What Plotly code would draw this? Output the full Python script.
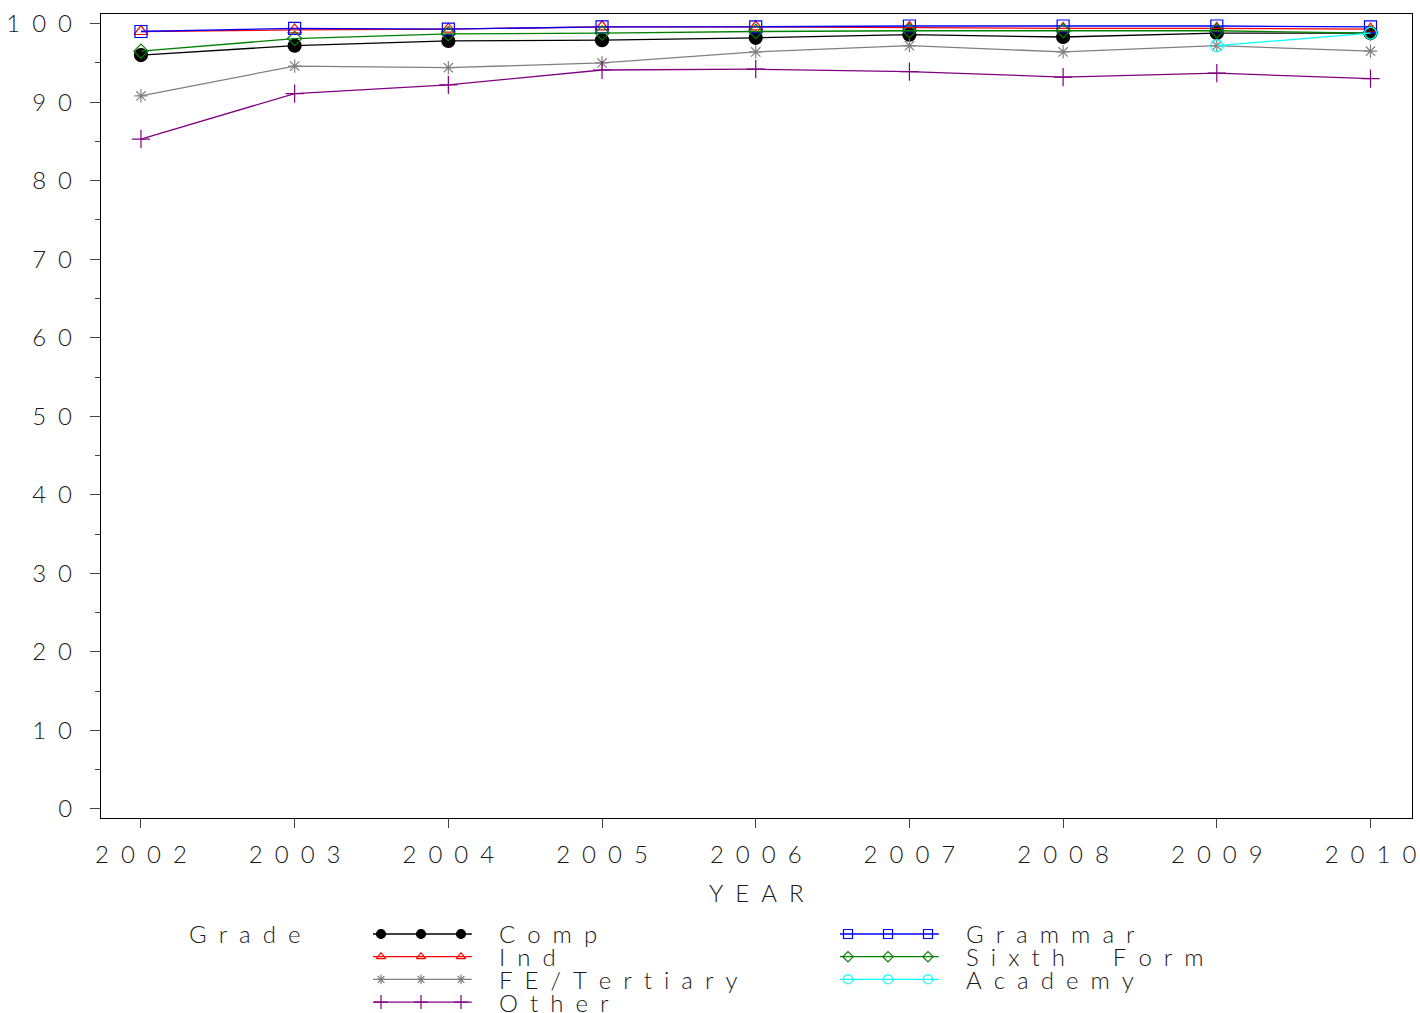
import plotly.graph_objects as go

years = [2002, 2003, 2004, 2005, 2006, 2007, 2008, 2009, 2010]
comp = [96.0, 97.2, 97.8, 97.9, 98.2, 98.6, 98.3, 98.8, 98.8]
ind = [99.0, 99.2, 99.3, 99.6, 99.6, 99.5, 99.4, 99.4, 99.3]
fe_tertiary = [90.8, 94.6, 94.4, 95.0, 96.4, 97.2, 96.4, 97.2, 96.5]
other = [85.3, 91.1, 92.2, 94.1, 94.2, 93.9, 93.2, 93.7, 93.0]
grammar = [99.0, 99.4, 99.3, 99.6, 99.6, 99.7, 99.7, 99.7, 99.6]
sixth_form = [96.5, 98.1, 98.7, 98.8, 99.0, 99.1, 99.1, 99.1, 98.8]
academy = [None, None, None, None, None, None, None, 97.2, 98.8]

names = ["Comp", "Ind", "FE/Tertiary", "Other", "Grammar", "Sixth Form", "Academy"]
values = [comp, ind, fe_tertiary, other, grammar, sixth_form, academy]
colors = ["black", "red", "#808080", "#800080", "blue", "#008000", "cyan"]
symbols = ["circle", "triangle-up-open", "asterisk-open", "cross-thin-open",
           "square-open", "diamond-open", "circle-open"]
plot_sizes = [13, 12, 11, 13, 12, 11, 12]
legend_sizes = [9, 8, 8, 10, 9, 8, 9]

y_ticks = [0, 10, 20, 30, 40, 50, 60, 70, 80, 90, 100]

FONT = "Lato"
SP = "\u2002"


def spaced(s):
    out = []
    for ch in s:
        if ch == " ":
            out.append(SP * 2)
        else:
            out.append(ch)
    return SP.join(out)


txtfont = dict(family=FONT, size=24, color="#1a1a1a", weight=300)

fig = go.Figure()

# main series
for nm, vals, col, sym, sz in zip(names, values, colors, symbols, plot_sizes):
    fig.add_trace(go.Scatter(
        x=years, y=vals, mode="lines+markers", name=nm,
        line=dict(color=col, width=1.3),
        marker=dict(symbol=sym, size=sz, color=col, line=dict(color=col, width=1.2)),
        connectgaps=False, showlegend=False, xaxis="x", yaxis="y"))

# custom legend drawn in its own small axes
col_offsets = [0.0, 11.675]
for i, (nm, col, sym, sz) in enumerate(zip(names, colors, symbols, legend_sizes)):
    c = i // 4
    r = i % 4
    x0 = col_offsets[c]
    fig.add_trace(go.Scatter(
        x=[x0 - 0.2, x0 + 2.27], y=[r, r], mode="lines",
        line=dict(color=col, width=1.3), showlegend=False,
        hoverinfo="skip", xaxis="x2", yaxis="y2"))
    fig.add_trace(go.Scatter(
        x=[x0, x0 + 1, x0 + 2], y=[r, r, r], mode="markers",
        marker=dict(symbol=sym, size=sz, color=col, line=dict(color=col, width=1.2)),
        showlegend=False, hoverinfo="skip", xaxis="x2", yaxis="y2"))
    fig.add_annotation(x=x0 + 2.9, y=r, xref="x2", yref="y2", text=spaced(nm),
                       showarrow=False, xanchor="left", yanchor="middle",
                       font=txtfont)

fig.add_annotation(x=-4.85, y=0, xref="x2", yref="y2", text=spaced("Grade"),
                   showarrow=False, xanchor="left", yanchor="middle",
                   font=txtfont)

fig.add_annotation(x=0.5, y=0.121, xref="paper", yref="paper", text=spaced("YEAR"),
                   showarrow=False, xanchor="center", yanchor="middle",
                   font=txtfont)

fig.update_layout(
    width=1420, height=1013,
    margin=dict(l=101, r=8, t=14, b=0, autoexpand=False),
    paper_bgcolor="white", plot_bgcolor="white",
    xaxis=dict(
        domain=[0, 1], range=[2001.74, 2010.27],
        tickvals=years, ticktext=[spaced(str(y)) for y in years],
        ticks="outside", ticklen=9, tickwidth=1.3, tickcolor="#444",
        showline=True, linecolor="black", linewidth=1.3, mirror=True,
        showgrid=False, zeroline=False, tickfont=txtfont,
        ticklabelstandoff=6, anchor="y", automargin=False),
    yaxis=dict(
        domain=[0.1952, 1], range=[-1.15, 101.23],
        tickvals=y_ticks, ticktext=[spaced(str(v)) for v in y_ticks],
        ticks="outside", ticklen=10, tickwidth=1.3, tickcolor="#444",
        minor=dict(dtick=5, tick0=0, ticks="outside", ticklen=5, tickwidth=1.3, tickcolor="#444"),
        showline=True, linecolor="black", linewidth=1.3, mirror=True,
        showgrid=False, zeroline=False, tickfont=txtfont,
        ticklabelstandoff=13, anchor="x", automargin=False),
    xaxis2=dict(domain=[0, 1], range=[-7, 25.775], visible=False, anchor="y2"),
    yaxis2=dict(domain=[0, 0.1], range=[3.48, -0.92], visible=False, anchor="x2"),
)

fig.write_html(
    "out.html",
    config={"displayModeBar": False},
    post_script="document.body.style.margin='0';document.body.style.overflow='hidden';",
)
